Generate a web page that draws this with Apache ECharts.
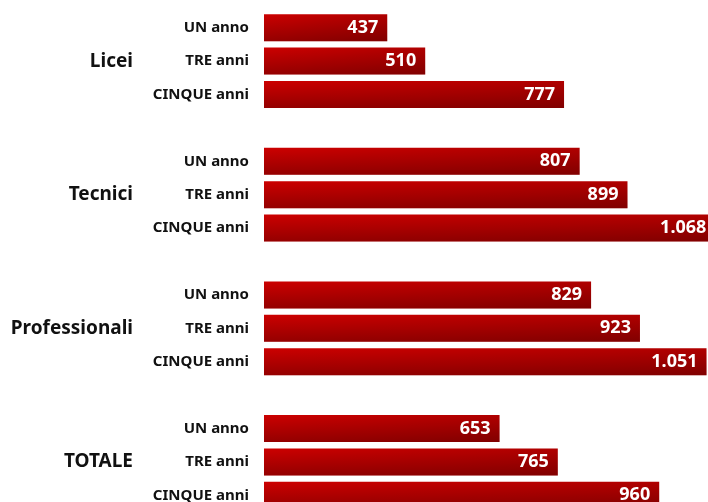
<!DOCTYPE html>
<html>
<head>
<meta charset="utf-8">
<script src="https://cdn.jsdelivr.net/npm/echarts@6/dist/echarts.min.js"></script>
<style>
  html, body { margin: 0; padding: 0; background: #fff; }
  #chart { width: 708px; height: 502px; }
</style>
</head>
<body>
<div id="chart"></div>
<script>
// dati
const groups = ['Licei', 'Tecnici', 'Professionali', 'TOTALE'];
const periods = ['UN anno', 'TRE anni', 'CINQUE anni'];
const liceiValues = [437, 510, 777];
const tecniciValues = [807, 899, 1068];
const professionaliValues = [829, 923, 1051];
const totaleValues = [653, 765, 960];

const groupValues = [liceiValues, tecniciValues, professionaliValues, totaleValues];

// righe: 3 barre per gruppo + una riga vuota tra i gruppi
const rowLabels = [], groupLabels = [], rowValues = [];
groups.forEach((g, gi) => {
  if (gi > 0) { rowLabels.push(''); groupLabels.push(''); rowValues.push(null); }
  periods.forEach((p, pi) => {
    rowLabels.push(p);
    groupLabels.push(pi === 1 ? g : '');
    rowValues.push(groupValues[gi][pi]);
  });
});

function fmt(v) {
  return String(v).replace(/\B(?=(\d{3})+(?!\d))/g, '.');
}

const FONT = '"Noto Sans", sans-serif';

const chart = echarts.init(document.getElementById('chart'), null, { renderer: 'canvas' });
chart.setOption({
  backgroundColor: '#fff',
  animation: false,
  // la griglia esce dal bordo destro: le barre più lunghe risultano tagliate
  grid: { left: 264, right: -24, top: 11, height: 501, outerBoundsMode: 'none' },
  xAxis: { type: 'value', min: 200, max: 1100, show: false },
  yAxis: [
    {
      type: 'category',
      inverse: true,
      data: rowLabels,
      axisLine: { show: false },
      axisTick: { show: false },
      axisLabel: { interval: 0, margin: 15, color: '#111', fontFamily: FONT, fontWeight: 'bold', fontSize: 15 },
    },
    {
      type: 'category',
      inverse: true,
      position: 'left',
      offset: 116,
      data: groupLabels,
      axisLine: { show: false },
      axisTick: { show: false },
      axisLabel: { interval: 0, margin: 15, color: '#111', fontFamily: FONT, fontWeight: 'bold', fontSize: 19 },
    },
  ],
  series: [
    {
      // barra di base, sfumatura orizzontale
      type: 'bar',
      yAxisIndex: 0,
      data: rowValues,
      barWidth: 27,
      clip: true,
      silent: true,
      itemStyle: {
        color: new echarts.graphic.LinearGradient(0, 0, 1, 0, [
          { offset: 0, color: '#cc0000' },
          { offset: 1, color: '#b00000' },
        ]),
      },
    },
    {
      // ombra verticale sopra la barra + etichetta
      type: 'bar',
      yAxisIndex: 0,
      data: rowValues,
      barWidth: 27,
      barGap: '-100%',
      clip: true,
      itemStyle: {
        color: new echarts.graphic.LinearGradient(0, 0, 0, 1, [
          { offset: 0, color: 'rgba(0,0,0,0)' },
          { offset: 1, color: 'rgba(0,0,0,0.27)' },
        ]),
      },
      label: {
        show: true,
        position: 'insideRight',
        distance: 9,
        color: '#fff',
        fontFamily: FONT,
        fontWeight: 'bold',
        fontSize: 18,
        formatter: (p) => fmt(p.value),
      },
    },
  ],
});
</script>
</body>
</html>
